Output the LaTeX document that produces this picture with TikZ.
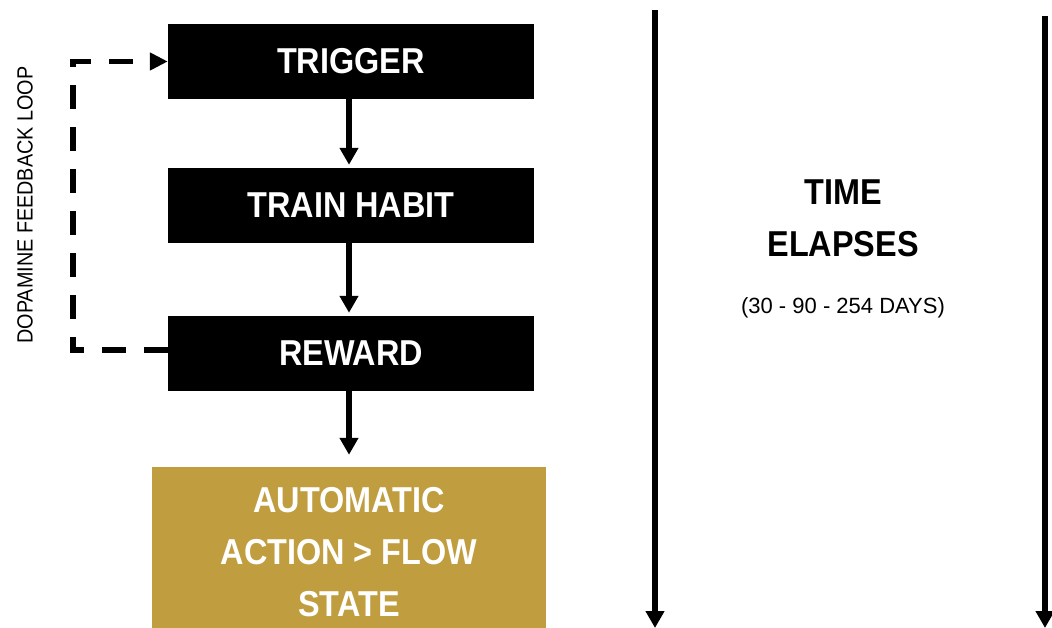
\documentclass[tikz,border=0pt]{standalone}
\usepackage{fontspec}
\setmainfont{Liberation Sans}
\newfontfamily\narrowfont{Liberation Sans}[FakeStretch=0.9]
\usetikzlibrary{arrows.meta}
\definecolor{gold}{RGB}{192,158,64}

\begin{document}
\begin{tikzpicture}[x=1pt,y=-1pt,
  stepbox/.style={fill=black, minimum width=366pt, minimum height=75pt,
    inner sep=0pt, text=white, font=\narrowfont\fontsize{36}{40}\selectfont\bfseries},
  goalbox/.style={fill=gold, minimum width=394pt, minimum height=170pt,
    inner sep=0pt, text=white, align=center,
    font=\narrowfont\fontsize{36}{52}\selectfont\bfseries},
  flow/.style={line width=6pt, -{Triangle[width=18pt,length=17pt]}},
  timeline/.style={line width=6pt, -{Triangle[width=18pt,length=17pt]}},
  feedback/.style={line width=5.5pt, dash pattern=on 24pt off 18pt,
    -{Triangle[width=17pt,length=18pt]}},
  headline/.style={font=\narrowfont\fontsize{36}{52}\selectfont\bfseries, align=center},
]
\useasboundingbox (0,0) rectangle (1052,628);

% habit loop boxes
\node[stepbox] (trigger) at (351,61.5) {TRIGGER};
\node[stepbox] (habit) at (351,205.5) {TRAIN HABIT};
\node[stepbox] (reward) at (351,353.5) {REWARD};
\node[goalbox] (auto) at (349,552) {AUTOMATIC\\ACTION > FLOW\\STATE};

% downward flow
\draw[flow, shorten >=3pt] ([xshift=-2pt]trigger.south) -- ([xshift=-2pt]habit.north);
\draw[flow, shorten >=3pt] ([xshift=-2pt]habit.south) -- ([xshift=-2pt]reward.north);
\draw[flow, shorten >=12pt] ([xshift=-2pt]reward.south) -- (auto.north);

% dopamine feedback loop
\draw[feedback] ([yshift=3.5pt]reward.west) -- ++(-95,0) |- (trigger.west);
\node[rotate=90, font=\narrowfont\fontsize{22}{26}\selectfont] (looplabel) at (25,205)
  {DOPAMINE FEEDBACK LOOP};

% time axis
\coordinate (ltop) at (655,10);
\coordinate (lbot) at (655,628);
\coordinate (rtop) at (1045,16);
\coordinate (rbot) at (1045,628);
\draw[timeline] (ltop) -- (lbot);
\draw[timeline] (rtop) -- (rbot);

\node[headline] (elapse) at (843,218) {TIME\\ELAPSES};
\node[font=\fontsize{22}{26}\selectfont] (days) at (843,308) {(30 - 90 - 254 DAYS)};
\end{tikzpicture}
\end{document}
